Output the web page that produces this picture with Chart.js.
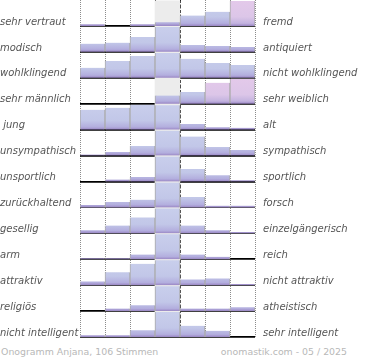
<!DOCTYPE html>
<html>
<head>
<meta charset="utf-8">
<script src="https://cdn.jsdelivr.net/npm/chart.js@4/dist/chart.umd.min.js"></script>
<style>
  html, body { margin: 0; padding: 0; background: #fff; }
  #wrap { position: relative; width: 370px; height: 360px; overflow: hidden; }
  #box { position: absolute; left: 0; top: 0; width: 370px; height: 340px; }
  .foot { position: absolute; top: 346px; font: 9.4px "DejaVu Sans", sans-serif; color: #b8b8b8; white-space: nowrap; }
</style>
</head>
<body>
<div id="wrap">
  <div id="box"><canvas id="c"></canvas></div>
  <div class="foot" style="left:1px;">Onogramm Anjana, 106 Stimmen</div>
  <div class="foot" style="right:23px;">onomastik.com - 05 / 2025</div>
</div>
<script>
// ---- data ----
const scalePoints = ['-3', '-2', '-1', '0', '1', '2', '3'];
const leftLabels = ['sehr vertraut', 'modisch', 'wohlklingend', 'sehr männlich', ' jung', 'unsympathisch',
  'unsportlich', 'zurückhaltend', 'gesellig', 'arm', 'attraktiv', 'religiös', 'nicht intelligent'];
const rightLabels = ['fremd', 'antiquiert', 'nicht wohlklingend', 'sehr weiblich', 'alt', 'sympathisch',
  'sportlich', 'forsch', 'einzelgängerisch', 'reich', 'nicht attraktiv', 'atheistisch', 'sehr intelligent'];
// relative share of votes per answer (percent of the row maximum)
const vertraut    = [7, 0, 7, 15, 42, 57, 100];
const modisch     = [33, 37, 60, 100, 28, 23, 19];
const klang       = [40, 67, 87, 100, 76, 59, 51];
const geschlecht  = [0, 0, 0, 33, 47, 84, 100];
const alter       = [80, 88, 100, 98, 23, 10, 7];
const sympathie   = [4, 14, 38, 100, 76, 34, 22];
const sport       = [0, 8, 18, 100, 50, 25, 5];
const forsch      = [10, 22, 31, 100, 42, 7, 7];
const gesellig    = [12, 31, 64, 100, 31, 12, 5];
const reich       = [4, 4, 19, 100, 19, 10, 0];
const attraktiv   = [15, 52, 86, 100, 23, 27, 5];
const religion    = [0, 10, 23, 100, 10, 10, 15];
const intelligenz = [7, 7, 27, 100, 45, 25, 0];
const rowValues = [vertraut, modisch, klang, geschlecht, alter, sympathie, sport, forsch, gesellig, reich, attraktiv, religion, intelligenz];

// ---- style ----
const BAR_H = 0.96;       // max bar height as fraction of row
const LABEL_POS = 0.85;   // label position inside row
const CENTER = 3;
const pinkBars = { 0: [6], 3: [5, 6] };
const nRows = rowValues.length;
const labelFont = { family: 'DejaVu Sans', size: 10, style: 'italic' };

function rowGradient(chart, row, pink) {
  const y = chart.scales.y;
  const top = y.getPixelForValue(row);
  const bot = y.getPixelForValue(row + 1);
  const g = chart.ctx.createLinearGradient(0, top, 0, bot);
  if (pink) {
    g.addColorStop(0, '#e4c9ea');
    g.addColorStop(0.65, '#dcc6e8');
    g.addColorStop(0.9, '#c3b3df');
    g.addColorStop(1, '#9a86c4');
  } else {
    g.addColorStop(0, '#c9cfec');
    g.addColorStop(0.65, '#c2c7e8');
    g.addColorStop(0.9, '#b3aede');
    g.addColorStop(1, '#9a86c4');
  }
  return g;
}

const datasets = [{
  label: 'bg',
  data: scalePoints.map((_, j) => j === CENTER ? [0, nRows] : null),
  backgroundColor: '#ececec',
  borderWidth: 0,
  order: 2
}];
rowValues.forEach((vals, i) => {
  datasets.push({
    label: leftLabels[i] + ' / ' + rightLabels[i],
    data: vals.map(v => [i + 1, i + 1 - BAR_H * v / 100]),
    backgroundColor: (ctx) => {
      if (!ctx.chart.chartArea) return '#c5cbe9';
      const pink = (pinkBars[i] || []).includes(ctx.dataIndex);
      return rowGradient(ctx.chart, i, pink);
    },
    borderColor: '#ababab',
    borderWidth: { top: 1, left: 1, right: 1, bottom: 0 },
    borderSkipped: 'bottom',
    order: 1
  });
});

function baselineTicks() {
  const t = [];
  for (let i = 0; i <= nRows; i++) t.push({ value: i });
  for (let i = 0; i < nRows; i++) t.push({ value: i + LABEL_POS });
  return t.sort((a, b) => a.value - b.value);
}
function labelTicks() {
  const t = [];
  for (let i = 0; i < nRows; i++) t.push({ value: i + LABEL_POS });
  return t;
}
const isBase = v => Math.abs(v - Math.round(v)) < 1e-6;

new Chart(document.getElementById('c'), {
  type: 'bar',
  data: { labels: scalePoints, datasets },
  options: {
    responsive: true,
    maintainAspectRatio: false,
    animation: false,
    layout: { padding: 0 },
    datasets: { bar: { grouped: false, barPercentage: 1, categoryPercentage: 1 } },
    plugins: { legend: { display: false }, tooltip: { enabled: false } },
    scales: {
      x: {
        type: 'category', position: 'bottom', offset: true,
        ticks: { display: false },
        grid: { offset: true, color: '#8c8c8c', drawTicks: false, lineWidth: 1 },
        border: { display: false, dash: [1, 1] },
        afterFit: s => { s.height = 3; s.paddingLeft = 0; s.paddingRight = 0; }
      },
      x2: {
        type: 'category', position: 'top', offset: true, labels: scalePoints, z: 1,
        ticks: { display: false },
        grid: { offset: true, drawTicks: false, lineWidth: 1,
          color: ctx => (ctx.index === CENTER || ctx.index === CENTER + 1) ? '#000' : 'rgba(0,0,0,0)' },
        border: { display: false, dash: [3, 2] },
        afterFit: s => { s.height = 0; s.paddingLeft = 0; s.paddingRight = 0; }
      },
      y: {
        type: 'linear', position: 'left', min: 0, max: nRows, reverse: true, z: 1,
        afterBuildTicks: s => { s.ticks = baselineTicks(); },
        ticks: {
          autoSkip: false, crossAlign: 'far', color: '#555', font: labelFont,
          callback: v => isBase(v) ? '' : leftLabels[Math.floor(v)]
        },
        grid: { drawTicks: false, lineWidth: 1.8,
          color: ctx => (ctx.tick && isBase(ctx.tick.value) && ctx.tick.value > 0) ? '#000' : 'rgba(0,0,0,0)' },
        border: { display: false },
        afterFit: s => { s.width = 80; s.paddingTop = 0; s.paddingBottom = 0; }
      },
      y2: {
        type: 'linear', position: 'right', min: 0, max: nRows, reverse: true,
        afterBuildTicks: s => { s.ticks = labelTicks(); },
        ticks: {
          autoSkip: false, padding: 8, color: '#555', font: labelFont,
          callback: v => rightLabels[Math.floor(v)]
        },
        grid: { display: false, drawTicks: false },
        border: { display: false },
        afterFit: s => { s.width = 115; s.paddingTop = 0; s.paddingBottom = 0; }
      }
    }
  }
});
</script>
</body>
</html>
